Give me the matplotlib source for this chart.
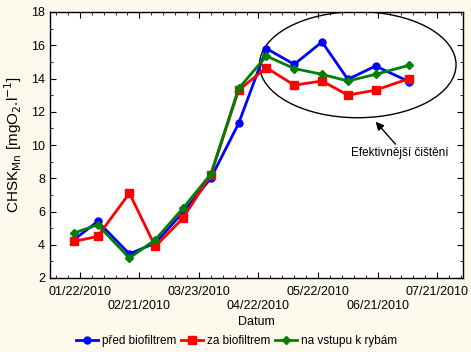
import numpy as np
import matplotlib
matplotlib.use("Agg")
import matplotlib.pyplot as plt
import matplotlib.dates as mdates
from matplotlib.patches import Ellipse
from matplotlib.ticker import AutoMinorLocator, MultipleLocator

plt.rcParams['font.family'] = ['Liberation Sans', 'DejaVu Sans']

# data
dates = np.array(['2010-01-19', '2010-01-31', '2010-02-16', '2010-03-01', '2010-03-15',
                  '2010-03-29', '2010-04-12', '2010-04-26', '2010-05-10', '2010-05-24',
                  '2010-06-06', '2010-06-20', '2010-07-07'], dtype='datetime64[D]')
pred_biofiltrem = [4.3, 5.4, 3.45, 4.1, 5.95, 8.0, 11.3, 15.8, 14.85, 16.2, 13.95, 14.75, 13.8]
za_biofiltrem = [4.2, 4.5, 7.1, 3.9, 5.6, 8.2, 13.3, 14.65, 13.6, 13.85, 13.0, 13.3, 14.0]
na_vstupu = [4.7, 5.2, 3.2, 4.3, 6.2, 8.25, 13.4, 15.35, 14.6, 14.25, 13.85, 14.25, 14.8]

tick_dates = np.array(['2010-01-22', '2010-02-21', '2010-03-23', '2010-04-22',
                       '2010-05-22', '2010-06-21', '2010-07-21'], dtype='datetime64[D]')
tick_labels = ['01/22/2010', '02/21/2010', '03/23/2010', '04/22/2010',
               '05/22/2010', '06/21/2010', '07/21/2010']

bg = '#FDF9EC'
fig = plt.figure(figsize=(4.71, 3.52), dpi=100, facecolor=bg)
ax = fig.add_axes([50 / 471, 74 / 352, 413 / 471, 266 / 352])
ax.set_facecolor('white')

ax.plot(dates, pred_biofiltrem, color='#0000FF', lw=2, marker='o', ms=5, label='před biofiltrem')
ax.plot(dates, za_biofiltrem, color='#FF0000', lw=2, marker='s', ms=5.5, label='za biofiltrem')
ax.plot(dates, na_vstupu, color='#008000', lw=2, marker='D', ms=4.5, label='na vstupu k rybám')

ax.set_xlim(np.datetime64('2010-01-07'), np.datetime64('2010-08-03'))
ax.set_ylim(2, 18)
ax.yaxis.set_major_locator(MultipleLocator(2))
ax.yaxis.set_minor_locator(MultipleLocator(1))
ax.set_xticks(mdates.date2num(tick_dates))
ax.set_xticklabels([])
ax.xaxis.set_minor_locator(AutoMinorLocator(5))
ax.tick_params(which='both', direction='in', top=True, right=True, labelsize=9, colors='black')
ax.tick_params(which='major', length=4)
ax.tick_params(which='minor', length=2)
for s in ax.spines.values():
    s.set_linewidth(1.0)

# staggered date labels (two rows)
for i, (d, lab) in enumerate(zip(tick_dates, tick_labels)):
    yy = -0.03 if i % 2 == 0 else -0.083
    ax.text(mdates.date2num(d), yy, lab, transform=ax.get_xaxis_transform(),
            ha='center', va='top', fontsize=9)

# ellipse and annotation
c = mdates.date2num(np.datetime64('2010-06-11'))
ax.add_patch(Ellipse((c, 14.83), 99, 6.38, fill=False, ec='black', lw=1.0))
ax.text(mdates.date2num(np.datetime64('2010-07-02')), 9.5, 'Efektivnější čištění',
        ha='center', va='center', fontsize=8.5)
ax.annotate('', xy=(mdates.date2num(np.datetime64('2010-06-20')), 11.4),
            xytext=(mdates.date2num(np.datetime64('2010-06-30')), 10.05),
            arrowprops=dict(arrowstyle='-|>', color='black', lw=1.0,
                            mutation_scale=12, shrinkA=0, shrinkB=0))

ax.set_ylabel('CHSK$_{\\mathrm{Mn}}$ [mgO$_{2}$.l$^{-1}$]', fontsize=11, labelpad=5)
ax.set_xlabel('Datum', fontsize=9, labelpad=24)

fig.legend(loc='lower center', bbox_to_anchor=(0.502, 0.0), ncol=3, frameon=False,
           fontsize=8.5, handlelength=1.9, columnspacing=0.4, handletextpad=0.3,
           borderaxespad=0.05)

fig.savefig('out.png', dpi=100, facecolor=bg)
